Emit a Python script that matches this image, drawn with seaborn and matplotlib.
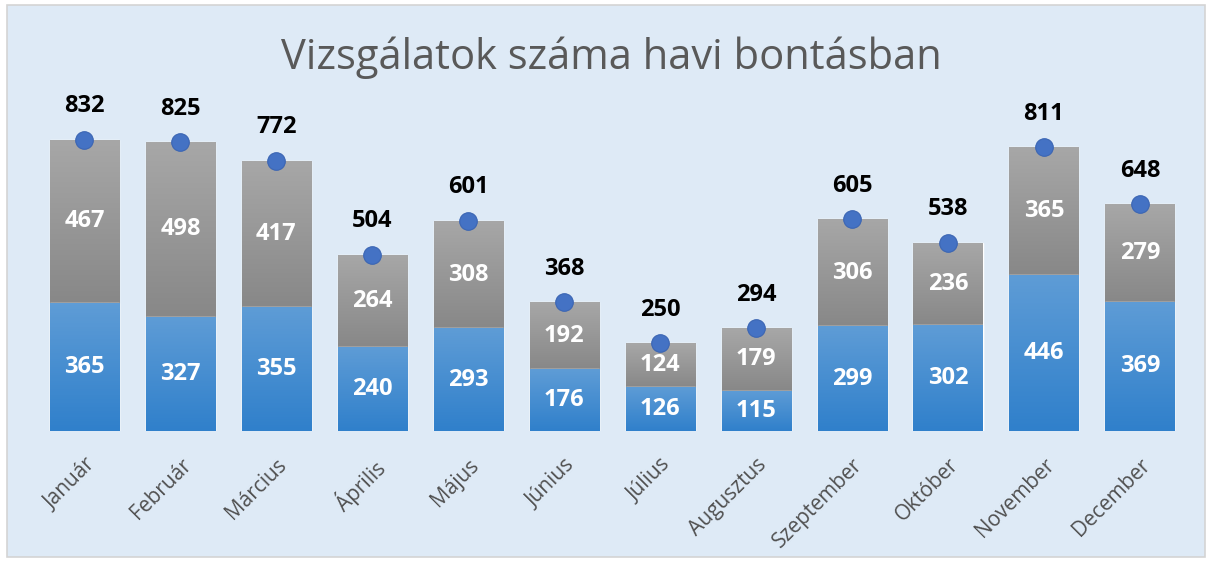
import numpy as np
import pandas as pd
import seaborn as sns
import matplotlib.pyplot as plt
from matplotlib.patches import Rectangle
from matplotlib.colors import LinearSegmentedColormap

# adatok
honapok = ["Január", "Február", "Március", "Április", "Május", "Június",
           "Július", "Augusztus", "Szeptember", "Október", "November", "December"]
alap = [365, 327, 355, 240, 293, 176, 126, 115, 299, 302, 446, 369]
felso = [467, 498, 417, 264, 308, 192, 124, 179, 306, 236, 365, 279]
osszes = [832, 825, 772, 504, 601, 368, 250, 294, 605, 538, 811, 648]

df = pd.DataFrame({"honap": honapok, "alap": alap, "felso": felso, "osszes": osszes})

sns.set_theme(style="white")
plt.rcParams['font.family'] = ['Open Sans', 'DejaVu Sans']

fig = plt.figure(figsize=(12.12, 5.62), dpi=100)
fig.patch.set_facecolor("white")
fig.add_artist(Rectangle((7 / 1212, 5 / 562), 1198 / 1212, 552 / 562,
                         transform=fig.transFigure, facecolor="#DEEAF6",
                         edgecolor="#D4D4D4", lw=1.2, zorder=0))

ax = fig.add_axes([0.0301, 0.2331, 0.950, 0.598])
ax.set_facecolor("none")

sns.barplot(data=df, x="honap", y="osszes", color="#a5a5a5", width=0.72,
            saturation=1, ax=ax, zorder=2)
sns.barplot(data=df, x="honap", y="alap", color="#5b9bd5", width=0.72,
            saturation=1, ax=ax, zorder=3)

# szinatmenet a sávokon
cm_szurke = LinearSegmentedColormap.from_list("sz", ["#888888", "#a7a7a7"])
cm_kek = LinearSegmentedColormap.from_list("k", ["#3080cb", "#5e9cd6"])
grad = np.linspace(0, 1, 64).reshape(-1, 1)
n = len(honapok)
for i, p in enumerate(ax.patches):
    x0 = p.get_x()
    x1 = x0 + p.get_width()
    if i < n:
        y0, y1, cm = alap[i], osszes[i], cm_szurke
    else:
        y0, y1, cm = 0, alap[i - n], cm_kek
    im = ax.imshow(grad, extent=[x0, x1, y0, y1], origin="lower", aspect="auto",
                   cmap=cm, zorder=p.get_zorder() + 0.1)
    im.set_clip_path(p)

ax.set_xlim(-0.5, n - 0.5)
ax.set_ylim(0, 960)

sns.scatterplot(data=df, x="honap", y="osszes", s=160, color="#4472c4",
                edgecolor="#3b65b3", linewidth=0.8, zorder=6, ax=ax, legend=False)

for i in range(n):
    ax.annotate(str(osszes[i]), (i, osszes[i]), xytext=(0, 24), textcoords="offset points",
                ha="center", va="center", fontsize=17, fontweight="bold", color="black")
    ax.text(i, alap[i] + felso[i] / 2, str(felso[i]), ha="center", va="center",
            fontsize=17, fontweight="bold", color="white", zorder=7)
    ax.text(i, alap[i] / 2, str(alap[i]), ha="center", va="center",
            fontsize=17, fontweight="bold", color="white", zorder=7)

ax.set_xlabel("")
ax.set_ylabel("")
ax.set_yticks([])
sns.despine(ax=ax, left=True, bottom=True)
ax.tick_params(axis="x", length=0, pad=17, labelsize=15, labelcolor="#505050")
for lbl in ax.get_xticklabels():
    lbl.set_rotation(45)
    lbl.set_ha("right")
    lbl.set_va("top")
    lbl.set_rotation_mode("anchor")

fig.text(0.5045, 0.897, "Vizsgálatok száma havi bontásban", ha="center", va="center",
         fontsize=30, color="#595959")

fig.savefig("out.png", dpi=100)
